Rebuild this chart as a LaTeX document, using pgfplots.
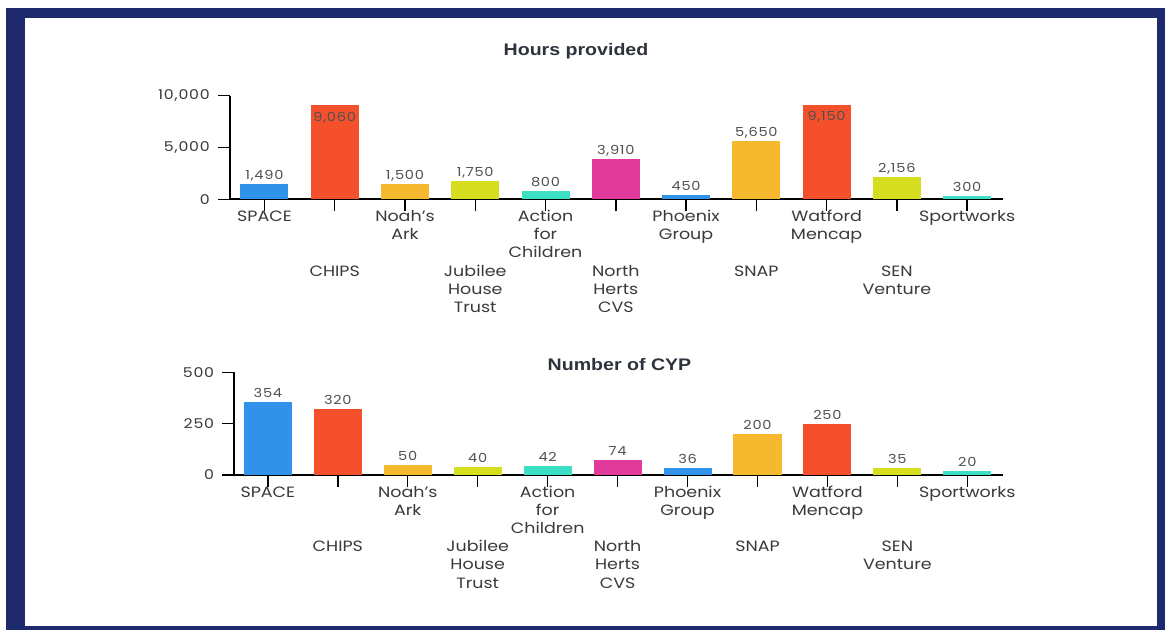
\documentclass[border=0pt]{standalone}
\usepackage{fontspec}
\usepackage{pgfplots}
\pgfplotsset{compat=1.18}
\setmainfont{Poppins}[FakeStretch=1.17]
\newfontfamily\numfont{Poppins}[FakeStretch=1.17, LetterSpace=6]
\newfontfamily\titlefont{Liberation Sans}[FakeStretch=1.17]
\definecolor{navy}{RGB}{31,42,110}
\definecolor{cblue}{RGB}{48,146,232}
\definecolor{cred}{RGB}{244,80,43}
\definecolor{cyel}{RGB}{246,184,46}
\definecolor{clime}{RGB}{214,222,31}
\definecolor{cteal}{RGB}{60,222,196}
\definecolor{cmag}{RGB}{226,58,154}
\definecolor{labgray}{RGB}{58,58,58}
\definecolor{valgray}{RGB}{80,80,80}
\definecolor{titlegray}{RGB}{45,50,60}
% one bar: [label shift]{colour}{x}{value}
\newcommand{\onebar}[4][4.5bp]{\addplot[fill=#2, draw=none, bar shift=0pt,
  nodes near coords, nodes near coords style={anchor=base, yshift=#1, inner sep=0pt,
  font=\numfont\fontsize{12.5}{14}\selectfont, text=valgray}] coordinates {(#3,#4)};}
\pgfplotsset{
  barchart/.style={
    scale only axis, ybar, bar width=48bp,
    ymin=0,
    axis x line*=bottom, axis y line*=left,
    axis line style={-, line width=2.3bp, black},
    tick align=outside, major tick length=12bp,
    every tick/.style={line width=1.4bp, black},
    xtick={0,...,10},
    xticklabels={{\strut SPACE},{\strut\\\strut\\\strut\\CHIPS},{\strut Noah\char"27 s\\Ark},
      {\strut\\\strut\\\strut\\Jubilee\\House\\Trust},{\strut Action\\for\\Children},
      {\strut\\\strut\\\strut\\North\\Herts\\CVS},{\strut Phoenix\\Group},
      {\strut\\\strut\\\strut\\SNAP},{\strut Watford\\Mencap},
      {\strut\\\strut\\\strut\\SEN\\Venture},{\strut Sportworks}},
    xticklabel style={align=center, anchor=north, inner sep=0pt, yshift=2.5bp,
      font=\fontsize{15}{18.2}\selectfont, text=labgray},
    yticklabel style={anchor=east, inner sep=0pt, xshift=-8bp,
      font=\numfont\fontsize{13.5}{14}\selectfont, text=labgray},
    scaled y ticks=false,
    /pgf/number format/.cd, 1000 sep={,}, assume math mode=true,
  }
}
\begin{document}
\begin{tikzpicture}
\path[use as bounding box] (0,0) rectangle (1165bp,-630bp);
\fill[navy] (6bp,-8bp) rectangle (1165bp,-630bp);
\fill[white] (25bp,-18bp) rectangle (1157bp,-626bp);
\node[anchor=base, font=\titlefont\bfseries\fontsize{16.8}{18}\selectfont, text=titlegray] at (576bp,-55bp) {Hours provided};
\node[anchor=base, font=\titlefont\bfseries\fontsize{16.8}{18}\selectfont, text=titlegray] at (619.5bp,-370bp) {Number of CYP};

\begin{axis}[barchart, at={(230bp,-199.3bp)}, anchor=south west,
  width=773bp, height=103.6bp, xmin=-0.49, xmax=10.51, ymax=10000,
  ytick={0,5000,10000}]
\onebar{cblue}{0}{1490}
\onebar[-15.7bp]{cred}{1}{9060}
\onebar{cyel}{2}{1500}
\onebar{clime}{3}{1750}
\onebar{cteal}{4}{800}
\onebar{cmag}{5}{3910}
\onebar{cblue}{6}{450}
\onebar{cyel}{7}{5650}
\onebar[-15.7bp]{cred}{8}{9150}
\onebar{clime}{9}{2156}
\onebar{cteal}{10}{300}
\end{axis}

\begin{axis}[barchart, at={(234.3bp,-475bp)}, anchor=south west,
  width=768.7bp, height=102.7bp, xmin=-0.48, xmax=10.51, ymax=500,
  ytick={0,250,500}]
\onebar{cblue}{0}{354}
\onebar{cred}{1}{320}
\onebar{cyel}{2}{50}
\onebar{clime}{3}{40}
\onebar{cteal}{4}{42}
\onebar{cmag}{5}{74}
\onebar{cblue}{6}{36}
\onebar{cyel}{7}{200}
\onebar{cred}{8}{250}
\onebar{clime}{9}{35}
\onebar{cteal}{10}{20}
\end{axis}
\end{tikzpicture}
\end{document}
